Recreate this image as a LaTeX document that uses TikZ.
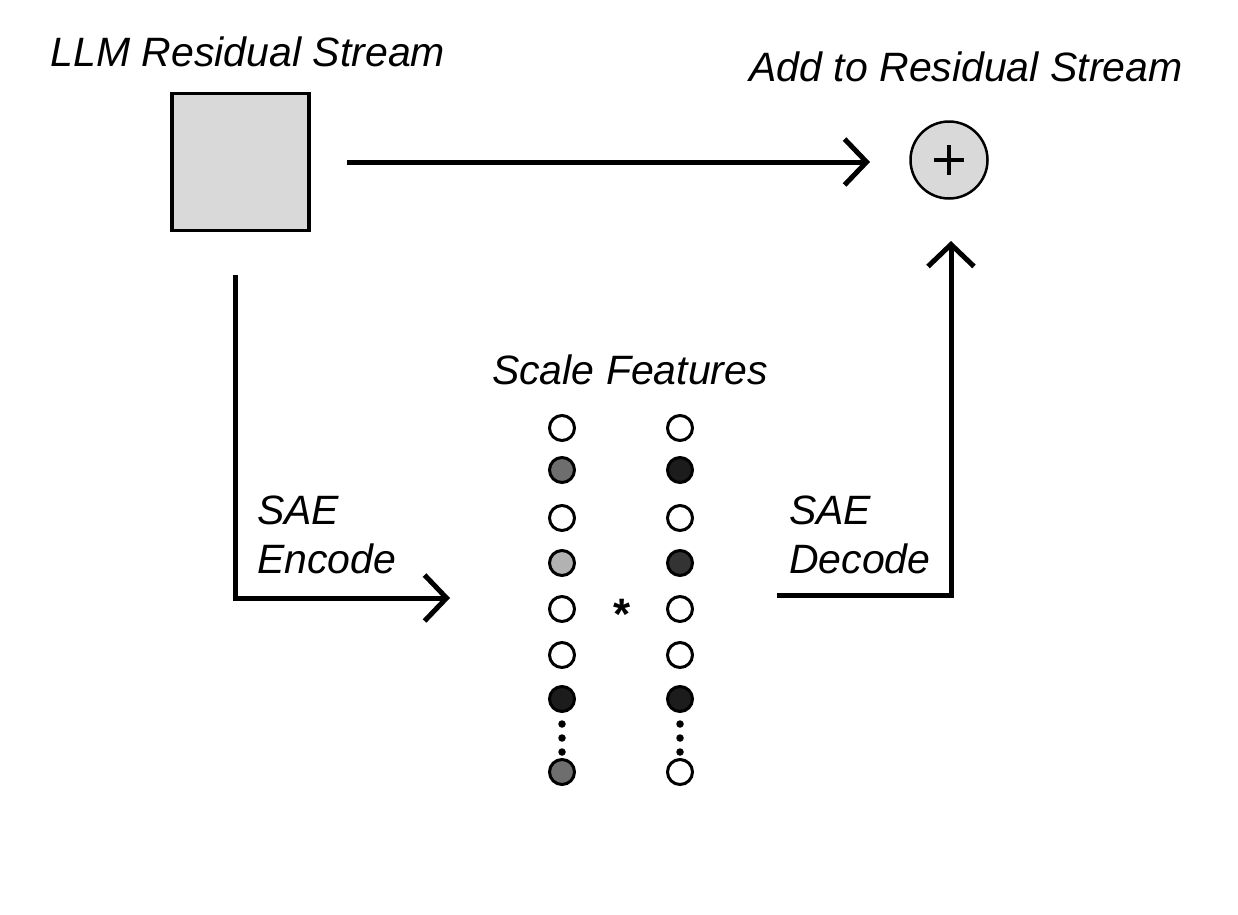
\documentclass[tikz,border=0pt]{standalone}
\usepackage{fontspec}
\setmainfont{Liberation Sans}
\usetikzlibrary{arrows.meta}
\begin{document}
\begin{tikzpicture}[x=1pt,y=-1pt,
  lbl/.style={font=\fontsize{41}{49}\selectfont\itshape, inner sep=0pt},
  arr/.style={line width=5pt, -{Straight Barb[length=22pt,width=46pt,line width=5pt]}},
  feat/.style={circle, draw=black, line width=3pt, minimum size=25pt, inner sep=0pt},
  smalldot/.style={circle, fill=black, minimum size=7.5pt, inner sep=0pt},
]
\useasboundingbox (0,0) rectangle (1238,914);
\definecolor{boxgray}{HTML}{D9D9D9}
\definecolor{midgray}{HTML}{6E6E6E}
\definecolor{lightgray2}{HTML}{B2B2B2}
\definecolor{nearblack}{HTML}{1C1C1C}
\definecolor{darkgray2}{HTML}{333333}

% square
\node (sq) [draw=black, line width=3.5pt, fill=boxgray, minimum size=137pt, inner sep=0pt] at (240.5,162) {};
\node (t1) [lbl] at (248,52) {LLM Residual Stream};

% plus circle
\node (plus) [circle, draw=black, line width=2.5pt, fill=boxgray, minimum size=77pt, inner sep=0pt] at (949,160) {};
\draw[line width=3.5pt] ([xshift=-15pt]plus.center) -- ([xshift=15pt]plus.center)
      ([yshift=-15pt]plus.center) -- ([yshift=15pt]plus.center);
\node (t2) [lbl] at (966,67) {Add to Residual Stream};

% top arrow
\coordinate (a1) at (347,162);
\coordinate (a2) at (870,162);
\draw[arr] (a1) -- (a2);

% encode arrow
\coordinate (e1) at (235,275);
\coordinate (e2) at (450,598);
\draw[arr] (e1) |- (e2);
\node (enc) [lbl, anchor=west, align=left] at (257,535) {SAE\\Encode};

% decode arrow
\coordinate (d1) at (777,595);
\coordinate (d2) at (951,241);
\draw[arr] (d1) -| (d2);
\node (dec) [lbl, anchor=west, align=left] at (789,535) {SAE\\Decode};

% scale features
\node (t3) [lbl] at (630,370) {Scale Features};

% columns
\node (l1) [feat, fill=white] at (562,428) {};
\node (l2) [feat, fill=midgray] at (562,470) {};
\node (l3) [feat, fill=white] at (562,518) {};
\node (l4) [feat, fill=lightgray2] at (562,563) {};
\node (l5) [feat, fill=white] at (562,609) {};
\node (l6) [feat, fill=white] at (562,655) {};
\node (l7) [feat, fill=nearblack] at (562,699) {};
\node (l8) [feat, fill=midgray] at (562,772) {};
\node (ld1) [smalldot] at (562,724) {};
\node (ld2) [smalldot] at (562,738) {};
\node (ld3) [smalldot] at (562,752) {};

\node (r1) [feat, fill=white] at (680,428) {};
\node (r2) [feat, fill=nearblack] at (680,470) {};
\node (r3) [feat, fill=white] at (680,518) {};
\node (r4) [feat, fill=darkgray2] at (680,563) {};
\node (r5) [feat, fill=white] at (680,609) {};
\node (r6) [feat, fill=white] at (680,655) {};
\node (r7) [feat, fill=nearblack] at (680,699) {};
\node (r8) [feat, fill=white] at (680,772) {};
\node (rd1) [smalldot] at (680,724) {};
\node (rd2) [smalldot] at (680,738) {};
\node (rd3) [smalldot] at (680,752) {};

\node (star) at (622,614) {\fontsize{44}{44}\selectfont\bfseries *};
\end{tikzpicture}
\end{document}
